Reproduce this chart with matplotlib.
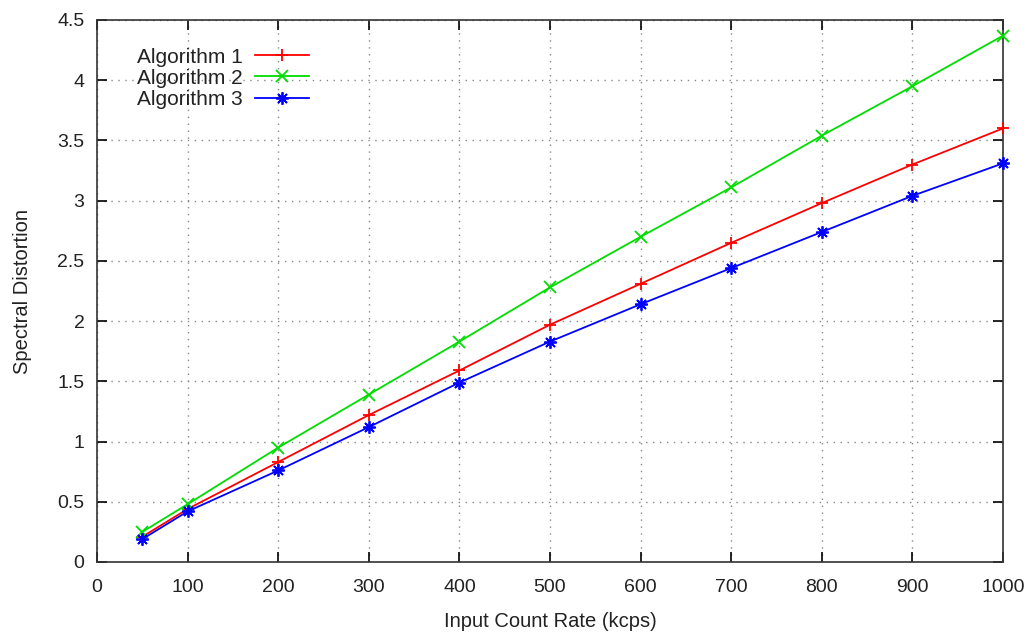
import matplotlib
matplotlib.use("Agg")
import matplotlib.pyplot as plt
from matplotlib.ticker import FuncFormatter

plt.rcParams['font.family'] = ['Liberation Sans', 'DejaVu Sans']

x = [50, 100, 200, 300, 400, 500, 600, 700, 800, 900, 1000]
algo1 = [0.21, 0.44, 0.83, 1.22, 1.59, 1.97, 2.31, 2.65, 2.98, 3.30, 3.60]
algo2 = [0.25, 0.48, 0.95, 1.39, 1.83, 2.28, 2.70, 3.11, 3.54, 3.95, 4.37]
algo3 = [0.19, 0.42, 0.76, 1.12, 1.49, 1.83, 2.14, 2.44, 2.74, 3.04, 3.31]
labels = ["Algorithm 1", "Algorithm 2", "Algorithm 3"]
xticks = [0, 100, 200, 300, 400, 500, 600, 700, 800, 900, 1000]
yticks = [0, 0.5, 1, 1.5, 2, 2.5, 3, 3.5, 4, 4.5]

fig = plt.figure(figsize=(10.27, 6.32), dpi=100)
ax = fig.add_axes([97/1027, 1 - 562/632, (1003-97)/1027, (562-20)/632])

styles = [("#ff0000", "+"), ("#00dd00", "x"), ("#0000ff", (8, 2, 0))]
for ys, lab, (c, m) in zip([algo1, algo2, algo3], labels, styles):
    ax.plot(x, ys, color=c, marker=m, markersize=9, markeredgewidth=1.3,
            linewidth=1.3, label=lab, clip_on=False, zorder=3)

ax.set_xlim(0, 1000)
ax.set_ylim(0, 4.5)
ax.set_xticks(xticks)
ax.set_yticks(yticks)
ax.yaxis.set_major_formatter(FuncFormatter(lambda v, p: f"{v:g}"))
ax.tick_params(direction='in', top=True, right=True, length=7, width=1.2,
               labelsize=14, pad=9, colors='black')
ax.tick_params(axis='x', pad=12)
for lab in ax.get_xticklabels() + ax.get_yticklabels():
    lab.set_color('#222222')
ax.grid(True, linestyle=(0, (1, 4)), color='#888888', linewidth=1.0)
for s in ax.spines.values():
    s.set_linewidth(1.2)
    s.set_color('#333333')

ax.set_xlabel("Input Count Rate (kcps)", fontsize=14.5, color='#222222', labelpad=12)
ax.set_ylabel("Spectral Distortion", fontsize=14.5, color='#222222', labelpad=18)

leg = ax.legend(loc='upper left', bbox_to_anchor=(0.044, 0.949), frameon=False,
                markerfirst=False, numpoints=1, fontsize=15, handlelength=2.6,
                labelspacing=0.1, handletextpad=0.6, borderaxespad=0,
                borderpad=0)
for t in leg.get_texts():
    t.set_color('#222222')

fig.savefig("out.png", dpi=100)
